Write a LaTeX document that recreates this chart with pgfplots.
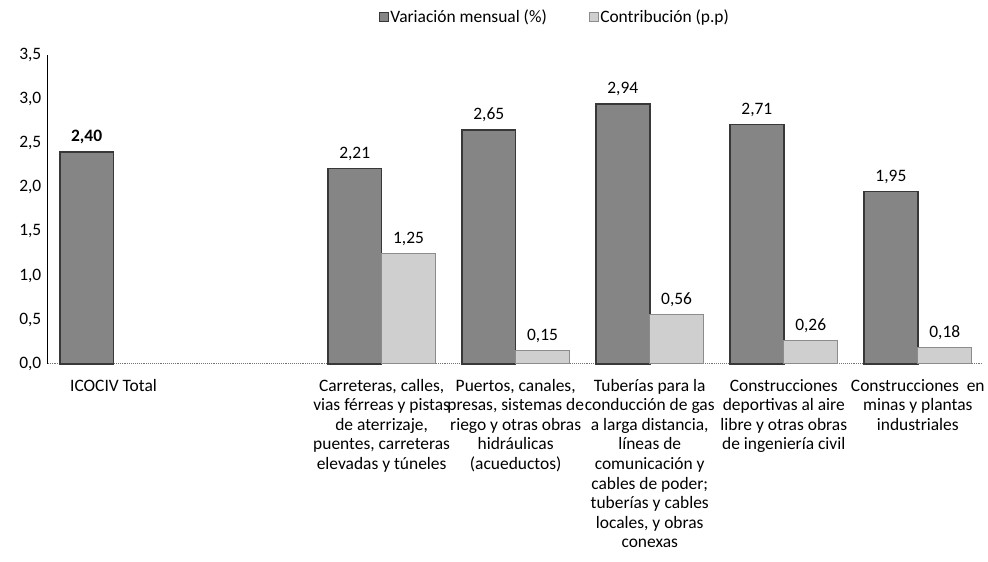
\documentclass[border=0pt]{standalone}
\usepackage{pgfplots}
\pgfplotsset{compat=1.18}
\usepackage{fontspec}
\setmainfont{Carlito}
\definecolor{darkbar}{gray}{0.52}
\definecolor{darkedge}{gray}{0.22}
\definecolor{lightbar}{gray}{0.81}
\definecolor{lightedge}{gray}{0.55}
\begin{document}
\begin{tikzpicture}
\path (-48pt,-198pt) rectangle (940pt,365pt);
\begin{axis}[
  at={(0,0)}, anchor=south west,
  scale only axis,
  width=937pt, height=310pt,
  xmin=-0.49, xmax=6.476,
  ymin=0, ymax=3.5,
  ytick={0,0.5,...,3.5},
  xtick={0,1,2,3,4,5,6},
  xticklabels={{ICOCIV Total},{},
    {Carreteras, calles,\\vias férreas y pistas\\de aterrizaje,\\puentes, carreteras\\elevadas y túneles},
    {Puertos, canales,\\presas, sistemas de\\riego y otras obras\\hidráulicas\\(acueductos)},
    {Tuberías para la\\conducción de gas\\a larga distancia,\\líneas de\\comunicación y\\cables de poder;\\tuberías y cables\\locales, y obras\\conexas},
    {Construcciones\\deportivas al aire\\libre y otras obras\\de ingeniería civil},
    {Construcciones~~en\\minas y plantas\\industriales}},
  xticklabel style={align=center, font=\fontsize{17.5}{19.6}\selectfont, anchor=north, yshift=-12pt},
  yticklabel style={font=\fontsize{17.5}{19.6}\selectfont, xshift=-3pt},
  /pgf/number format/assume math mode=true,
  yticklabel={\pgfmathprintnumber[fixed,fixed zerofill,precision=1,use comma]{\tick}},
  major tick length=0pt,
  axis lines=left,
  axis line style={-},
  y axis line style={black, line width=1.1pt},
  x axis line style={black!55, densely dotted, line width=0.9pt},
  ybar, bar width=54pt,
  nodes near coords={\pgfmathprintnumber[fixed,fixed zerofill,precision=2,use comma]{\pgfplotspointmeta}},
  nodes near coords style={font=\fontsize{17.5}{19.6}\selectfont, yshift=4pt},
  legend columns=2,
  legend style={draw=none, fill=none, at={(0.543,1.123)}, anchor=center,
    font=\fontsize{17.5}{19.6}\selectfont,
    /tikz/every even column/.append style={column sep=40pt}},
  legend image code/.code={\draw[#1, line width=0.6pt] (0pt,-4.5pt) rectangle (9pt,4.5pt);},
  clip=false,
]
\addplot[bar shift=-27pt, fill=darkbar, draw=darkedge, line width=1.6pt] coordinates {(2,2.21) (3,2.65) (4,2.94) (5,2.71) (6,1.95)};
\addlegendentry{Variación mensual (\%)}
\addplot[bar shift=27pt, fill=lightbar, draw=lightedge, line width=1.2pt] coordinates {(2,1.25) (3,0.15) (4,0.56) (5,0.26) (6,0.18)};
\addlegendentry{Contribución (p.p)}
\addplot[forget plot, bar shift=-27pt, fill=darkbar, draw=darkedge, line width=1.6pt,
  nodes near coords style={font=\fontsize{17.5}{19.6}\selectfont\bfseries}] coordinates {(0,2.40)};
\end{axis}
\end{tikzpicture}
\end{document}
